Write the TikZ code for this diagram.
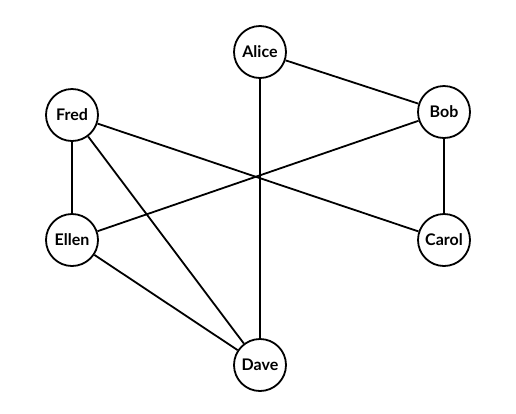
\documentclass[tikz,border=0pt]{standalone}
\usepackage{fontspec}
\setmainfont{Lato}[UprightFont=* Bold]
\usetikzlibrary{calc}

\begin{document}
\begin{tikzpicture}[x=1pt,y=-1pt,
  person/.style={draw,line width=1.8pt,circle,minimum size=52pt,inner sep=0pt,fill=white,font=\fontsize{16}{18}\selectfont},
  tie/.style={line width=1.8pt}]
\useasboundingbox (0,0) rectangle (516,413);
\foreach \who/\px/\py in {Alice/260/52,Bob/444/112,Carol/444/240,Dave/260/365,Ellen/72/240,Fred/72/115}{
	\node[person] (\who) at (\px,\py) {\who};
};
\foreach \a/\b in {Alice/Bob,Alice/Dave,Bob/Carol,Bob/Ellen,Fred/Carol,Fred/Ellen,Fred/Dave,Ellen/Dave}{
	\draw[tie] (\a) -- (\b);
};
\end{tikzpicture}
\end{document}
